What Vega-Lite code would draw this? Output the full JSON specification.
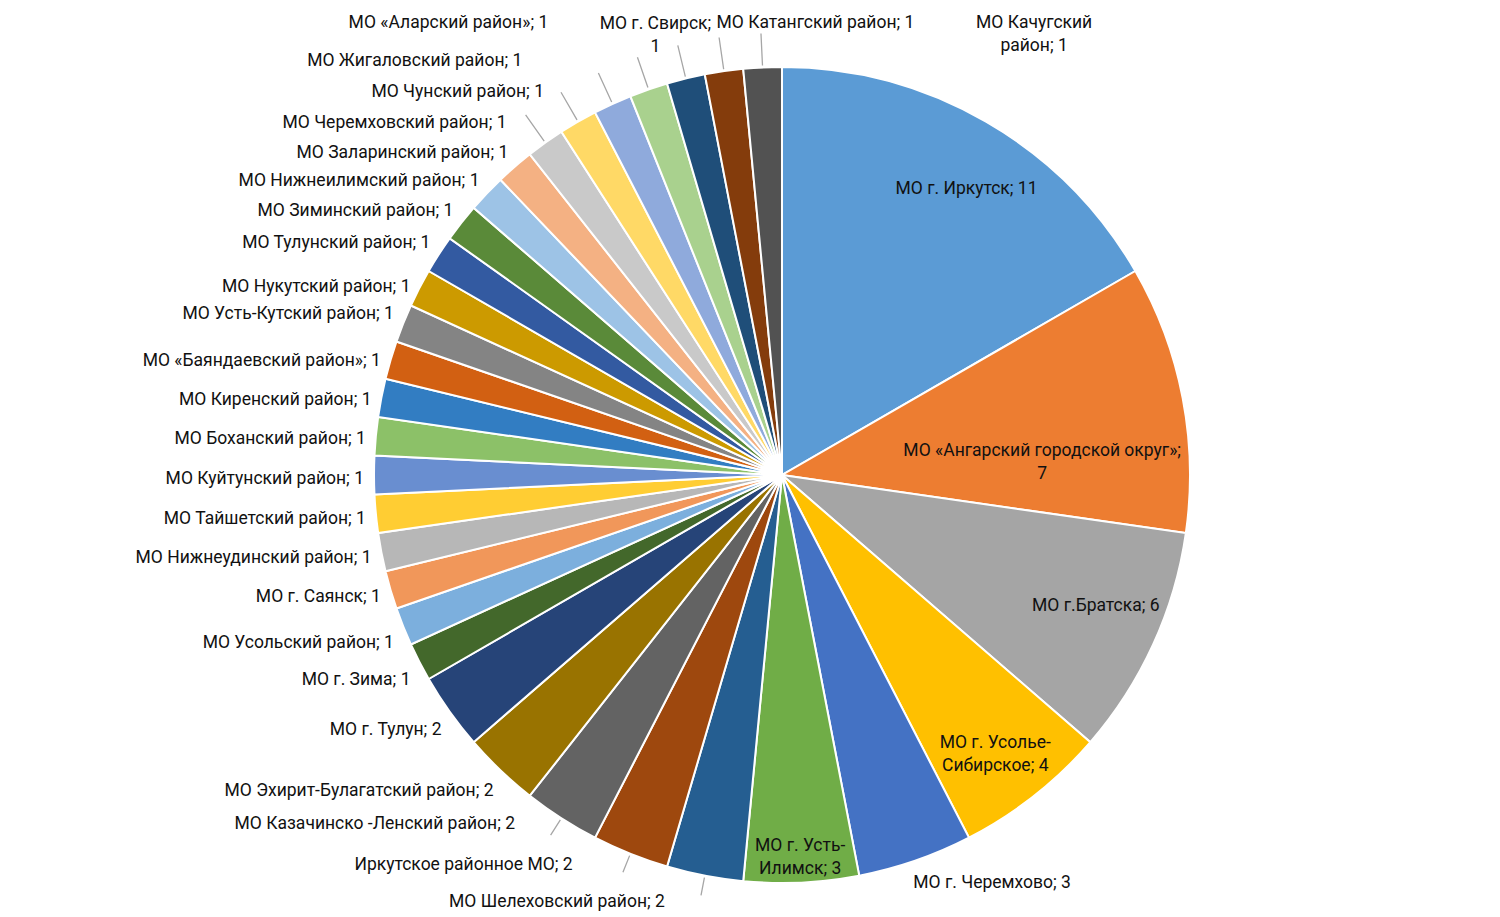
{
  "$schema": "https://vega.github.io/schema/vega-lite/v6.json",
  "width": 1436,
  "height": 884,
  "autosize": "none",
  "padding": {"left": 64, "top": 33, "right": 0, "bottom": 0},
  "background": "white",
  "config": {
    "view": {"stroke": null},
    "text": {"font": "Roboto", "fontSize": 17.5, "fill": "#111111", "lineBreak": "\n", "lineHeight": 23}
  },
  "data": {
    "values": [
      {"k": 1, "label": "МО г. Иркутск; 11", "value": 11},
      {"k": 2, "label": "МО «Ангарский городской округ»;\n7", "value": 7},
      {"k": 3, "label": "МО г.Братска; 6", "value": 6},
      {"k": 4, "label": "МО г. Усолье-\nСибирское; 4", "value": 4},
      {"k": 5, "label": "МО г. Черемхово; 3", "value": 3},
      {"k": 6, "label": "МО г. Усть-\nИлимск; 3", "value": 3},
      {"k": 7, "label": "МО Шелеховский район; 2", "value": 2},
      {"k": 8, "label": "Иркутское районное МО; 2", "value": 2},
      {"k": 9, "label": "МО Казачинско -Ленский район; 2", "value": 2},
      {"k": 10, "label": "МО Эхирит-Булагатский район; 2", "value": 2},
      {"k": 11, "label": "МО г. Тулун; 2", "value": 2},
      {"k": 12, "label": "МО г. Зима; 1", "value": 1},
      {"k": 13, "label": "МО Усольский район; 1", "value": 1},
      {"k": 14, "label": "МО г. Саянск; 1", "value": 1},
      {"k": 15, "label": "МО Нижнеудинский район; 1", "value": 1},
      {"k": 16, "label": "МО Тайшетский район; 1", "value": 1},
      {"k": 17, "label": "МО Куйтунский район; 1", "value": 1},
      {"k": 18, "label": "МО Боханский район; 1", "value": 1},
      {"k": 19, "label": "МО Киренский район; 1", "value": 1},
      {"k": 20, "label": "МО «Баяндаевский район»; 1", "value": 1},
      {"k": 21, "label": "МО Усть-Кутский район; 1", "value": 1},
      {"k": 22, "label": "МО Нукутский район; 1", "value": 1},
      {"k": 23, "label": "МО Тулунский район; 1", "value": 1},
      {"k": 24, "label": "МО Зиминский район; 1", "value": 1},
      {"k": 25, "label": "МО Нижнеилимский район; 1", "value": 1},
      {"k": 26, "label": "МО Заларинский район; 1", "value": 1},
      {"k": 27, "label": "МО Черемховский район; 1", "value": 1},
      {"k": 28, "label": "МО Чунский район; 1", "value": 1},
      {"k": 29, "label": "МО Жигаловский район; 1", "value": 1},
      {"k": 30, "label": "МО «Аларский район»; 1", "value": 1},
      {"k": 31, "label": "МО г. Свирск;\n1", "value": 1},
      {"k": 32, "label": "МО Катангский район; 1", "value": 1},
      {"k": 33, "label": "МО Качугский\nрайон; 1", "value": 1}
    ]
  },
  "encoding": {
    "theta": {"field": "value", "type": "quantitative", "stack": true},
    "order": {"field": "k", "type": "quantitative"}
  },
  "layer": [
    {
      "mark": {"type": "arc", "outerRadius": 408, "stroke": "white", "strokeWidth": 2},
      "encoding": {
        "color": {
          "field": "k", "type": "nominal", "legend": null,
          "scale": {
            "domain": [1,2,3,4,5,6,7,8,9,10,11,12,13,14,15,16,17,18,19,20,21,22,23,24,25,26,27,28,29,30,31,32,33],
            "range": ["#5B9BD5","#ED7D31","#A5A5A5","#FFC000","#4472C4","#70AD47","#255E91","#9E480E","#636363","#997300","#264478","#43682B","#7CAFDD","#F1975A","#B7B7B7","#FFCD33","#698ED0","#8CC168","#327DC2","#D26012","#848484","#CC9A00","#335AA1","#5A8A39","#9DC3E6","#F4B183","#C9C9C9","#FFD966","#8FAADC","#A9D18E","#1F4E79","#843C0C","#525252"]
          }
        }
      }
    },
    {
      "mark": {"type": "arc", "innerRadius": 410, "outerRadius": 442, "padAngle": 1, "fillOpacity": 0, "stroke": "#A6A6A6", "strokeWidth": 1.3},
      "encoding": {"strokeOpacity": {"condition": {"test": "datum.k >= 27", "value": 1}, "value": 0}}
    },
    {
      "mark": {"type": "arc", "innerRadius": 410, "outerRadius": 428, "padAngle": 1, "fillOpacity": 0, "stroke": "#A6A6A6", "strokeWidth": 1.3},
      "encoding": {"strokeOpacity": {"condition": {"test": "datum.k >= 7 && datum.k <= 9", "value": 1}, "value": 0}}
    },
    {
      "mark": {"type": "text", "radius": 345, "align": "center", "baseline": "middle", "dx": 12, "dy": 13},
      "encoding": {"text": {"condition": {"test": "datum.k == 1", "field": "label"}, "value": ""}}
    },
    {
      "mark": {"type": "text", "radius": 345, "align": "center", "baseline": "middle", "dy": -12},
      "encoding": {"text": {"condition": {"test": "datum.k == 3", "field": "label"}, "value": ""}}
    },
    {
      "mark": {"type": "text", "radius": 345, "align": "center", "baseline": "middle", "dy": -3},
      "encoding": {"text": {"condition": {"test": "datum.k == 4", "field": "label"}, "value": ""}}
    },
    {
      "mark": {"type": "text", "radius": 265, "align": "center", "baseline": "middle", "dy": 26},
      "encoding": {"text": {"condition": {"test": "datum.k == 2", "field": "label"}, "value": ""}}
    },
    {
      "mark": {"type": "text", "radius": 381, "align": "center", "baseline": "middle", "dy": -10},
      "encoding": {"text": {"condition": {"test": "datum.k == 6", "field": "label"}, "value": ""}}
    },
    {
      "mark": {"type": "text", "radius": 432, "align": "left", "baseline": "middle", "dx": -10},
      "encoding": {"text": {"condition": {"test": "datum.k == 5", "field": "label"}, "value": ""}}
    },
    {
      "mark": {"type": "text", "radius": 418, "align": "right", "baseline": "middle", "dx": -38, "dy": 17},
      "encoding": {"text": {"condition": {"test": "datum.k == 7", "field": "label"}, "value": ""}}
    },
    {
      "mark": {"type": "text", "radius": 418, "align": "right", "baseline": "middle", "dx": -54, "dy": 2},
      "encoding": {"text": {"condition": {"test": "datum.k == 8", "field": "label"}, "value": ""}}
    },
    {
      "mark": {"type": "text", "radius": 418, "align": "right", "baseline": "middle", "dx": -41, "dy": -3},
      "encoding": {"text": {"condition": {"test": "datum.k == 9", "field": "label"}, "value": ""}}
    },
    {
      "mark": {"type": "text", "radius": 418, "align": "right", "baseline": "middle", "dy": 13},
      "encoding": {"text": {"condition": {"test": "datum.k >= 10 && datum.k <= 13", "field": "label"}, "value": ""}}
    },
    {
      "mark": {"type": "text", "radius": 418, "align": "right", "baseline": "middle", "dy": 4},
      "encoding": {"text": {"condition": {"test": "(datum.k >= 14 && datum.k <= 20) || datum.k == 22", "field": "label"}, "value": ""}}
    },
    {
      "mark": {"type": "text", "radius": 418, "align": "right", "baseline": "middle", "dy": -6},
      "encoding": {"text": {"condition": {"test": "datum.k == 21 || (datum.k >= 23 && datum.k <= 26)", "field": "label"}, "value": ""}}
    },
    {
      "mark": {"type": "text", "radius": 418, "align": "right", "baseline": "middle", "dx": -33, "dy": -12},
      "encoding": {"text": {"condition": {"test": "datum.k == 27", "field": "label"}, "value": ""}}
    },
    {
      "mark": {"type": "text", "radius": 418, "align": "right", "baseline": "middle", "dx": -29, "dy": -21},
      "encoding": {"text": {"condition": {"test": "datum.k == 28", "field": "label"}, "value": ""}}
    },
    {
      "mark": {"type": "text", "radius": 418, "align": "right", "baseline": "middle", "dx": -86, "dy": -34},
      "encoding": {"text": {"condition": {"test": "datum.k == 29", "field": "label"}, "value": ""}}
    },
    {
      "mark": {"type": "text", "radius": 418, "align": "right", "baseline": "middle", "dx": -97, "dy": -57},
      "encoding": {"text": {"condition": {"test": "datum.k == 30", "field": "label"}, "value": ""}}
    },
    {
      "mark": {"type": "text", "radius": 418, "align": "center", "baseline": "middle", "dx": -28, "dy": -45},
      "encoding": {"text": {"condition": {"test": "datum.k == 31", "field": "label"}, "value": ""}}
    },
    {
      "mark": {"type": "text", "radius": 418, "align": "left", "baseline": "middle", "dx": -6, "dy": -38},
      "encoding": {"text": {"condition": {"test": "datum.k == 32", "field": "label"}, "value": ""}}
    },
    {
      "mark": {"type": "text", "radius": 418, "align": "center", "baseline": "middle", "dx": 272, "dy": -34},
      "encoding": {"text": {"condition": {"test": "datum.k == 33", "field": "label"}, "value": ""}}
    }
  ]
}
